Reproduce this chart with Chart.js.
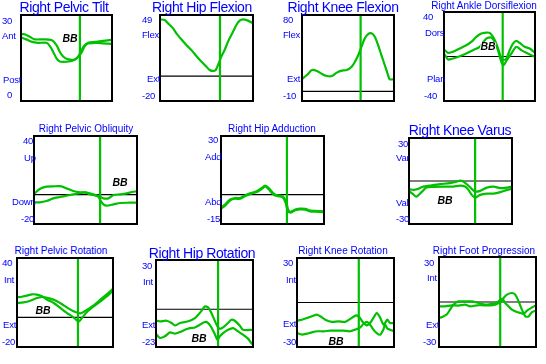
<!DOCTYPE html>
<html>
<head>
<meta charset="utf-8">
<script src="https://cdn.jsdelivr.net/npm/chart.js@4.4.1/dist/chart.umd.min.js"></script>
<style>
  body { margin: 0; background: #fff; width: 546px; height: 364px; position: relative; overflow: hidden;
         font-family: Arial, "Liberation Sans", sans-serif; }
  .panel { position: absolute; }
  .txt { position: absolute; white-space: nowrap; color: #0000ff; }
  .big { font-size: 14px; line-height: 14px; letter-spacing: -0.4px; transform: translate(-50%, -50%); }
  .small { font-size: 10px; line-height: 10px; transform: translate(-50%, -50%); }
  .lbl { font-size: 9.5px; line-height: 10px; letter-spacing: -0.2px; transform: translateY(-50%); }
  .bb { position: absolute; font: italic bold 10.5px Arial, sans-serif; line-height: 10px; color: #000;
        transform: translate(-50%, -50%); text-shadow: 1px 0 #fff, -1px 0 #fff; }
</style>
</head>
<body>
<script>
// panel texts and scales
const titles = ['Right Pelvic Tilt', 'Right Hip Flexion', 'Right Knee Flexion', 'Right Ankle Dorsiflexion',
  'Right Pelvic Obliquity', 'Right Hip Adduction', 'Right Knee Varus',
  'Right Pelvic Rotation', 'Right Hip Rotation', 'Right Knee Rotation', 'Right Foot Progression'];
const axisMax = [30, 49, 80, 40, 40, 30, 30, 40, 30, 30, 30];
const axisMin = [0, -20, -10, -40, -20, -15, -30, -20, -23, -30, -30];
const tickLabels = [['30', 'Ant', 'Post', '0'], ['49', 'Flex', 'Ext', '-20'], ['80', 'Flex', 'Ext', '-10'],
  ['40', 'Dors', 'Plan', '-40'], ['40', 'Up', 'Down', '-20'], ['30', 'Add', 'Abd', '-15'],
  ['30', 'Var', 'Val', '-30'], ['40', 'Int', 'Ext', '-20'], ['30', 'Int', 'Ext', '-23'],
  ['30', 'Int', 'Ext', '-30'], ['30', 'Int', 'Ext', '-30']];
const toeOff = [64.7, 64.5, 63.7, 64.5, 64.2, 64.0, 64.2, 63.5, 64.0, 63.7, 63.1];
const zeroLine = [null, 0, 0, 0, 0, 0, 0, 0, 0, 0, 0];
const sideTag = ['BB', null, null, 'BB', 'BB', null, 'BB', 'BB', 'BB', 'BB', null];

// curves: % gait cycle / degrees
const tiltX1 = [0, 4, 9.6, 15.1, 24.3, 33.5, 39, 42.6, 46.3, 51.8, 59.2, 62.9, 66.5, 70.2, 73.9, 81.2, 90.4, 100];
const tiltY1 = [23.3, 23.3, 22.4, 21.5, 21.5, 21.3, 19.5, 17.2, 15.5, 14.5, 14.5, 15.5, 16.9, 19.2, 20.3, 20.6, 21, 21.3];
const tiltX2 = [0, 5.9, 11.4, 18.7, 27.9, 31.6, 35.3, 39, 42.6, 50, 57.3, 62.9, 66.5, 70.2, 73.9, 83.1, 90.4, 100];
const tiltY2 = [22.2, 21.5, 20.7, 20.3, 20.3, 19.2, 17.2, 14.9, 13.8, 13.7, 14.1, 15.5, 17.8, 19.5, 20.1, 20.3, 20.1, 19.9];

const hipFlexX = [0, 5, 8.6, 14, 17.6, 22.9, 28.3, 33.7, 39.1, 44.4, 49.8, 53.4, 57, 59.9, 62.4, 65.9, 69.5, 73.1, 78.5, 82.1, 85.7, 89.2, 94.6, 100];
const hipFlexY = [45.5, 45, 42.3, 38.3, 34.3, 29.5, 24.9, 20.9, 16.1, 11.6, 7.6, 4.9, 4.1, 4.9, 8.9, 15.6, 20.9, 27.6, 35.6, 41, 44.5, 45.5, 44.5, 42.3];

const kneeFlexX = [0, 5.4, 10.8, 16.2, 21.6, 27, 32.4, 37.8, 43.2, 48.6, 54, 57.6, 61.2, 64.7, 68.3, 71.9, 75.5, 79.1, 82.7, 86.3, 89.9, 93.5, 95.3, 100];
const kneeFlexY = [13, 17.2, 22.4, 21.4, 18.3, 16.2, 16.2, 19.7, 21.8, 22.4, 25.9, 31.2, 38.1, 46.9, 55.6, 60.1, 60.8, 57.3, 48.6, 38.1, 27.7, 17.2, 12.7, 12.7];

const ankleX1 = [0, 4.4, 9.9, 17.2, 24.5, 30, 35.5, 41, 46.5, 50.2, 53.8, 57.5, 61.2, 63, 64.8, 68.5, 72.2, 75.8, 79.5, 83.2, 88.6, 94.1, 100];
const ankleY1 = [6.3, 3.3, 4.2, 7.2, 10.1, 13.1, 17.6, 20.6, 21.5, 21.2, 17.6, 11.6, 2.7, -1.8, -3.3, -1.8, 5.7, 11.6, 14, 12.2, 8.7, 7.2, 3.3];
const ankleX2 = [0, 4.4, 9.9, 17.2, 24.5, 31.9, 39.2, 46.5, 52, 55.7, 59.3, 63, 65.6, 68.5, 74, 79.5, 85, 90.5, 96, 100];
const ankleY2 = [2.7, -2.7, -1.8, 0.3, 2.7, 5.7, 8.7, 16.1, 17, 13.1, 5.7, -4.8, -7.8, -3.9, 2.7, 8.7, 5.7, 3.3, 1.2, -0.3];

const oblX1 = [0, 5.5, 12.1, 18.6, 26.7, 31.6, 38.1, 44.6, 51.1, 57.6, 62.5, 64.2, 67.4, 70.7, 77.2, 83.7, 90.2, 100];
const oblY1 = [0.5, 3.9, 5.5, 5.7, 5.7, 4.3, 2.5, 1.6, 1.4, 0.2, -1.4, -3.6, -6.6, -7.5, -6.6, -5.7, -5.5, -5.5];
const oblX2 = [0, 5.5, 12.1, 18.6, 25.1, 31.6, 38.1, 44.6, 49.5, 54.4, 60.9, 64.2, 67.4, 72.3, 77.2, 83.7, 90.2, 95.1, 100];
const oblY2 = [-5.2, -5.2, -4.3, -2.5, -1.6, -0.7, 0.2, 1.1, 1.6, 0.2, -0.7, -1.4, -2.5, -2.5, -0.2, 0.2, 0.9, 1.8, 2.3];

const hipAddX = [0, 3.9, 8.8, 13.6, 18.5, 21.8, 28.2, 34.7, 39.6, 42.9, 46.1, 49.4, 52.6, 57.5, 60.7, 63.3, 64.9, 67.2, 72.1, 77, 81.8, 86.7, 91.6, 100];
const hipAddY = [-7, -5.3, -2.7, -1.9, -1.9, -1, 0.5, 1.5, 3.2, 4.4, 3.2, 1.2, -0.2, -0.7, -1.5, -4.4, -7.8, -9, -7.8, -7.3, -7.5, -8.4, -8.5, -8.7];

const varusX1 = [0, 3.9, 8.8, 13.7, 20.2, 30, 39.7, 46.3, 49.5, 52.8, 57.6, 60.9, 64.2, 69.1, 75.6, 82.1, 88.6, 95.1, 100];
const varusY1 = [-5.5, -6.2, -5.5, -3.9, -3.2, -2.2, -1.5, -0.4, 0.3, -0.4, -3.2, -5.5, -7.4, -6.9, -4.6, -3.9, -5, -4.6, -3.9];
const varusX2 = [0, 3.9, 7.2, 12.1, 16.9, 23.5, 33.2, 43, 49.5, 54.4, 57.7, 60.9, 64.2, 69.1, 75.6, 82.1, 88.6, 95.1, 100];
const varusY2 = [-6.9, -9.2, -10.9, -7.8, -4.6, -4.1, -3.9, -3.9, -3.2, -3.9, -6.2, -9.7, -11.6, -9.7, -8.8, -8.8, -7.8, -6.2, -5.5];

const pelRotX1 = [0, 5.2, 10.4, 15.6, 20.8, 26, 31.3, 38.2, 45.1, 52.1, 57.3, 60.8, 64.2, 67.7, 72.9, 79.9, 86.8, 93.8, 100];
const pelRotY1 = [13.5, 13.9, 14.6, 15.5, 15.3, 14.2, 11.9, 9.7, 6.3, 2.9, 0.7, -1.1, -2.9, -0.4, 3.6, 7.4, 10.8, 14.2, 18];
const pelRotX2 = [0, 6.9, 13.9, 20.8, 27.8, 34.7, 41.7, 48.6, 55.6, 60.8, 66, 69.4, 74.7, 79.9, 86.8, 93.8, 100];
const pelRotY2 = [9.7, 10.1, 11.2, 13, 13.7, 12.6, 10.8, 8.1, 5.2, 3.6, 2.7, 3.6, 5.8, 8.1, 11.9, 15.7, 19.3];

const hipRotX1 = [0, 4.1, 11, 16.1, 19.5, 24.7, 29.8, 34.9, 40.1, 43.5, 46.9, 50.3, 53.8, 57.2, 60.6, 63.4, 65.8, 69.2, 74.3, 77.7, 81.2, 86.3, 89.7, 100];
const hipRotY1 = [-7, -7.4, -7, -8.4, -9.9, -8.4, -7.8, -7, -5.4, -3.4, -1, 1.7, 1.1, -2.4, -7, -10.5, -11.9, -11.1, -8.4, -6.4, -7, -9.9, -12.5, -12.5];
const hipRotX2 = [0, 4.1, 9.2, 14.4, 19.5, 24.7, 29.8, 34.9, 40.1, 45.2, 50.3, 53.8, 57.2, 60.6, 63.4, 65.8, 69.2, 74.3, 79.5, 84.6, 89.7, 94.9, 98.3, 100];
const hipRotY2 = [-15.1, -17.5, -16.5, -14.1, -14.9, -13.9, -12.5, -11.5, -11.1, -9.5, -7.8, -8.4, -11.1, -15.1, -18.6, -16.5, -14.5, -12.5, -11.5, -13.5, -15.5, -17.9, -20.6, -21.6];

const kneeRotX1 = [0, 5.1, 10.3, 15.4, 20.5, 24, 29.1, 36, 42.8, 49.7, 56.5, 61, 64.4, 67.8, 71.9, 75.3, 78.8, 82.2, 85.6, 89, 90.8, 93.2, 95.9, 100];
const kneeRotY1 = [-12.2, -11.6, -10.4, -9.3, -8.2, -9.3, -11.6, -13.1, -12.7, -13.1, -10.4, -8.7, -10, -13.1, -15.4, -13.8, -10.4, -7.1, -10, -14.9, -13.8, -11.6, -13.8, -13.8];
const kneeRotX2 = [0, 5.1, 10.3, 15.4, 20.5, 27.4, 34.2, 41.1, 47.9, 54.8, 59.9, 64.4, 68.5, 71.9, 75.3, 78.8, 82.2, 85.6, 89, 90.8, 93.2, 95.9, 100];
const kneeRotY2 = [-20.6, -21.7, -21, -20.1, -19.4, -19.4, -19, -19, -19, -19.4, -18.3, -17.2, -14.5, -13.1, -14.9, -18.3, -20.6, -21.7, -18.3, -14.9, -17.6, -18.3, -19.4];

const footX1 = [0, 4.5, 7.9, 11.4, 14.8, 20, 26.9, 33.8, 40.7, 47.6, 54.5, 59.7, 63.1, 65.9, 68.3, 71.7, 75.2, 80.3, 83.8, 87.2, 90.7, 95.9, 100];
const footY1 = [-10.7, -9.6, -8.4, -5.1, -1.8, 0.4, 0.4, 0.4, -0.7, -1.8, -1.3, -0.7, 1.6, 1.6, -0.7, -2.9, -5.1, -6.7, -7.3, -8, -5.8, -3.6, -2.2];
const footX2 = [0, 6.2, 13.1, 20, 26.9, 32.1, 39, 45.9, 52.8, 57.9, 61.4, 64.1, 66.6, 70, 75.2, 78.6, 82.1, 85.5, 89, 92.4, 95.9, 100];
const footY2 = [-2.9, -2.9, -2.2, -2.4, -1.8, -2.9, -2.2, -2.2, -2.2, -1.8, -0.7, 0.4, 2.7, 4.9, 6, 4.9, 0.4, -5.1, -9.6, -9.6, -6.7, -5.8];

const series = [
  [[tiltX1, tiltY1], [tiltX2, tiltY2]],
  [[hipFlexX, hipFlexY]],
  [[kneeFlexX, kneeFlexY]],
  [[ankleX1, ankleY1], [ankleX2, ankleY2]],
  [[oblX1, oblY1], [oblX2, oblY2]],
  [[hipAddX, hipAddY]],
  [[varusX1, varusY1], [varusX2, varusY2]],
  [[pelRotX1, pelRotY1], [pelRotX2, pelRotY2]],
  [[hipRotX1, hipRotY1], [hipRotX2, hipRotY2]],
  [[kneeRotX1, kneeRotY1], [kneeRotX2, kneeRotY2]],
  [[footX1, footY1], [footX2, footY2]]
];

// page positions (px): plot box, title centre, label left/centre, tag centre
const layout = [
  { box: [21, 15, 91, 86], title: [64, 7, 'big'], lbl: [[2, 21], [2, 36], [3, 80], [7, 95]], tag: [70, 38] },
  { box: [160, 15, 93, 86], title: [202, 7, 'big'], lbl: [[142, 20], [142, 35], [147, 79], [142, 96]] },
  { box: [302, 15, 92, 86], title: [343, 7, 'big'], lbl: [[283, 20], [283, 35], [287, 79], [283, 96]] },
  { box: [444, 12, 91, 89], title: [484, 5.5, 'small'], lbl: [[423, 17], [425, 33], [427, 79], [424, 96]], tag: [488, 46] },
  { box: [34, 136, 103, 88], title: [86, 129, 'small'], lbl: [[23, 141], [24, 158], [12, 202], [21, 219]], tag: [120, 182] },
  { box: [221, 136, 103, 88], title: [272, 129, 'small'], lbl: [[208, 140], [205, 157], [205, 202], [207, 219]] },
  { box: [409, 138, 103, 86], title: [460, 130, 'big'], lbl: [[398, 144], [396, 158], [396, 203], [396, 219]], tag: [445, 200] },
  { box: [17, 258, 96, 89], title: [61, 251, 'small'], lbl: [[2, 263], [4, 280], [3, 325], [2, 342]], tag: [43, 310] },
  { box: [156, 260, 97, 87], title: [202, 253, 'big'], lbl: [[142, 266], [143, 282], [142, 325], [142, 342]], tag: [199, 338] },
  { box: [297, 258, 97, 89], title: [343, 251, 'small'], lbl: [[283, 263], [286, 280], [283, 324], [283, 342]], tag: [336, 341] },
  { box: [439, 257, 97, 90], title: [484, 251, 'small'], lbl: [[424, 263], [427, 278], [426, 325], [423, 342]] }
];

const GREEN = '#00c000';
const PAD = 2;

const frame = {
  id: 'frame',
  afterDatasetsDraw(chart) {
    const a = chart.chartArea;
    const ctx = chart.ctx;
    ctx.save();
    ctx.strokeStyle = '#000';
    ctx.lineWidth = 2;
    ctx.strokeRect(a.left, a.top, a.right - a.left, a.bottom - a.top);
    ctx.restore();
  }
};

const addText = (cls, text, x, y) => {
  const d = document.createElement('div');
  d.className = cls;
  d.textContent = text;
  d.style.left = x + 'px';
  d.style.top = y + 'px';
  document.body.appendChild(d);
};

layout.forEach((p, i) => {
  const [bx, by, bw, bh] = p.box;
  const wrap = document.createElement('div');
  wrap.className = 'panel';
  wrap.style.left = (bx - PAD) + 'px';
  wrap.style.top = (by - PAD) + 'px';
  const cv = document.createElement('canvas');
  cv.width = bw + PAD * 2;
  cv.height = bh + PAD * 2;
  wrap.appendChild(cv);
  document.body.appendChild(wrap);

  const datasets = [];
  if (zeroLine[i] !== null) {
    datasets.push({ data: [{ x: 0, y: zeroLine[i] }, { x: 100, y: zeroLine[i] }],
      borderColor: '#000', borderWidth: 1.2, order: 3 });
  }
  series[i].forEach(([xs, ys]) => {
    datasets.push({ data: xs.map((x, k) => ({ x: x, y: ys[k] })),
      borderColor: GREEN, borderWidth: i === 5 ? 3 : 2.2, tension: 0.25, order: 2 });
  });
  datasets.push({ data: [{ x: toeOff[i], y: axisMin[i] }, { x: toeOff[i], y: axisMax[i] }],
    borderColor: GREEN, borderWidth: 2.2, order: 1 });

  new Chart(cv, {
    type: 'line',
    data: { datasets: datasets },
    options: {
      responsive: false,
      animation: false,
      devicePixelRatio: 1,
      layout: { padding: PAD },
      elements: { point: { radius: 0 } },
      scales: {
        x: { type: 'linear', min: 0, max: 100, display: false },
        y: { min: axisMin[i], max: axisMax[i], display: false }
      },
      plugins: { legend: { display: false }, tooltip: { enabled: false } }
    },
    plugins: [frame]
  });

  addText('txt ' + p.title[2], titles[i], p.title[0], p.title[1]);
  tickLabels[i].forEach((t, k) => addText('txt lbl', t, p.lbl[k][0], p.lbl[k][1]));
  if (sideTag[i]) addText('bb', sideTag[i], p.tag[0], p.tag[1]);
});
</script>
</body>
</html>
